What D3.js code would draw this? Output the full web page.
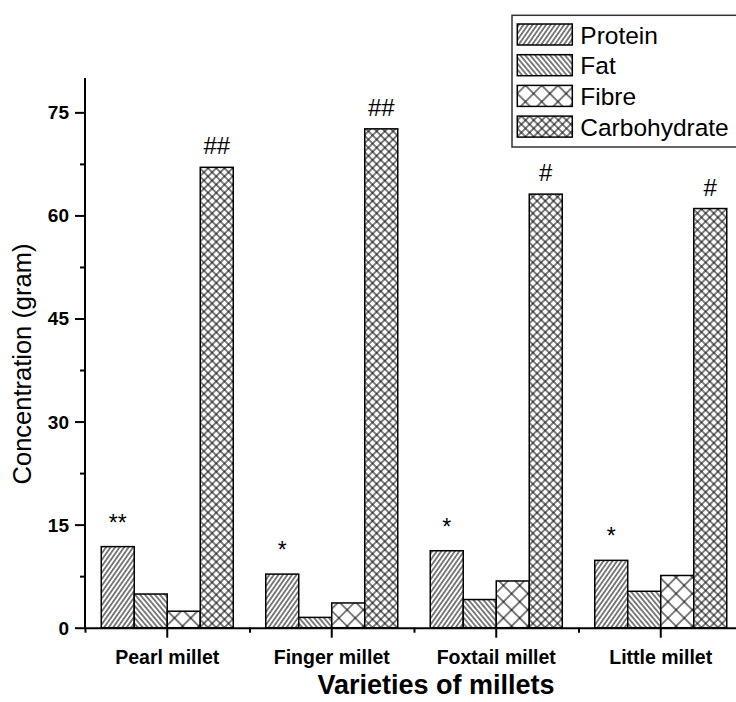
<!DOCTYPE html>
<html>
<head>
<meta charset="utf-8">
<script src="https://cdn.jsdelivr.net/npm/d3@7"></script>
<style>
html,body{margin:0;padding:0;background:#fff;}
svg{display:block;font-family:Arial,"Liberation Sans",Helvetica,sans-serif;}
</style>
</head>
<body>
<svg id="chart" width="736" height="702"></svg>
<script>
// ---- data ----
const categories = ["Pearl millet", "Finger millet", "Foxtail millet", "Little millet"];
const series = ["Protein", "Fat", "Fibre", "Carbohydrate"];
const protein = [11.8, 7.8, 11.2, 9.8];
const fat = [4.9, 1.5, 4.1, 5.3];
const fibre = [2.4, 3.6, 6.8, 7.6];
const carbohydrate = [67.0, 72.6, 63.1, 61.0];
const proteinMarks = ["**", "*", "*", "*"];
const carbohydrateMarks = ["##", "##", "#", "#"];
const yTicks = [0, 15, 30, 45, 60, 75];
const yMinorTicks = [7.5, 22.5, 37.5, 52.5, 67.5];
const yLabel = "Concentration (gram)";
const xLabel = "Varieties of millets";

const values = [protein, fat, fibre, carbohydrate];

// ---- layout ----
const svg = d3.select("#chart");
const plotLeft = 85, plotRight = 743, plotTop = 78, plotBottom = 627.7;

const x0 = d3.scaleBand().domain(categories).range([plotLeft, plotRight]).paddingInner(0).paddingOuter(0);
const pad = (x0.bandwidth() - 132) / 2;
const x1 = d3.scaleBand().domain(series).range([pad, x0.bandwidth() - pad]).padding(0);
const xEdge = d3.scaleLinear().domain([0, categories.length]).range([plotLeft, plotRight]);
const y = d3.scaleLinear().domain([0, 80]).range([plotBottom, plotTop]);

// ---- patterns ----
const defs = svg.append("defs");
function pattern(id, s, angle, cross) {
  const p = defs.append("pattern").attr("id", id)
    .attr("patternUnits", "userSpaceOnUse")
    .attr("width", s).attr("height", s)
    .attr("patternTransform", `rotate(${angle})`);
  p.append("rect").attr("width", s).attr("height", s).attr("fill", "#fff");
  p.append("line").attr("x1", s / 2).attr("y1", -1).attr("x2", s / 2).attr("y2", s + 1)
    .attr("stroke", "#000").attr("stroke-width", 1);
  if (cross) {
    p.append("line").attr("x1", -1).attr("y1", s / 2).attr("x2", s + 1).attr("y2", s / 2)
      .attr("stroke", "#000").attr("stroke-width", 1);
  }
}
pattern("pat-Protein", 3.7, 35, false);
pattern("pat-Fat", 3.8, -40, false);
pattern("pat-Fibre", 11.5, 45, true);
pattern("pat-Carbohydrate", 5.8, 45, true);

// ---- bars ----
const groups = svg.append("g").selectAll("g").data(categories).join("g")
  .attr("transform", d => `translate(${x0(d)},0)`);
groups.selectAll("rect")
  .data((c, i) => series.map((s, k) => ({ s, v: values[k][i] })))
  .join("rect")
  .attr("x", d => x1(d.s))
  .attr("y", d => y(d.v))
  .attr("width", x1.bandwidth())
  .attr("height", d => y(0) - y(d.v))
  .attr("fill", d => `url(#pat-${d.s})`)
  .attr("stroke", "#000")
  .attr("stroke-width", 1.5);

// ---- significance marks ----
const markG = svg.append("g").attr("font-size", 24).attr("text-anchor", "middle").attr("fill", "#000");
markG.selectAll("text.p").data(categories).join("text").attr("class", "p")
  .attr("x", (c) => x0(c) + x1("Protein") + x1.bandwidth() / 2)
  .attr("y", (c, i) => y(protein[i]) - 16)
  .attr("font-size", 23)
  .text((c, i) => proteinMarks[i]);
markG.selectAll("text.c").data(categories).join("text").attr("class", "c")
  .attr("x", (c) => x0(c) + x1("Carbohydrate") + x1.bandwidth() / 2)
  .attr("y", (c, i) => y(carbohydrate[i]) - 13)
  .text((c, i) => carbohydrateMarks[i]);

// ---- axes ----
const yAxis = svg.append("g").attr("transform", `translate(${plotLeft},0)`)
  .call(d3.axisLeft(y).tickValues(yTicks).tickSize(10).tickPadding(6).tickFormat(d3.format("d")));
const yMinor = svg.append("g").attr("transform", `translate(${plotLeft},0)`)
  .call(d3.axisLeft(y).tickValues(yMinorTicks).tickSize(5).tickFormat(""));
yMinor.select(".domain").remove();
yAxis.select(".domain").attr("d", `M0,${plotTop}V${plotBottom}`);

const xAxis = svg.append("g").attr("transform", `translate(0,${plotBottom})`)
  .call(d3.axisBottom(x0).tickSize(10).tickPadding(12).tickSizeOuter(0));
const xMinor = svg.append("g").attr("transform", `translate(0,${plotBottom})`)
  .call(d3.axisBottom(xEdge).tickValues(d3.range(categories.length + 1)).tickSize(5).tickFormat(""));
xMinor.select(".domain").remove();

svg.selectAll(".domain").attr("stroke", "#000").attr("stroke-width", 2);
svg.selectAll(".tick line").attr("stroke", "#000").attr("stroke-width", 2);
yAxis.selectAll("text").attr("font-size", 19).attr("font-weight", "bold").attr("fill", "#000").attr("dy", "0.34em");
xAxis.selectAll("text").attr("font-size", 19.5).attr("font-weight", "bold").attr("fill", "#000");

// ---- axis titles ----
svg.append("text")
  .attr("transform", `translate(31,364) rotate(-90)`)
  .attr("text-anchor", "middle")
  .attr("font-size", 25.5)
  .attr("fill", "#000")
  .text(yLabel);
svg.append("text")
  .attr("x", 436).attr("y", 694)
  .attr("text-anchor", "middle")
  .attr("font-size", 27)
  .attr("font-weight", "bold")
  .attr("fill", "#000")
  .text(xLabel);

// ---- legend ----
const lg = svg.append("g");
lg.append("rect").attr("x", 512).attr("y", 15.3).attr("width", 260).attr("height", 131.7)
  .attr("fill", "#fff").attr("stroke", "#333").attr("stroke-width", 1.5);
const rows = lg.selectAll("g").data(series).join("g")
  .attr("transform", (d, i) => `translate(517.3,${24 + i * 30.7})`);
rows.append("rect").attr("width", 55).attr("height", 21)
  .attr("fill", d => `url(#pat-${d})`).attr("stroke", "#000").attr("stroke-width", 1.5);
rows.append("text").attr("x", 63).attr("y", 19.5)
  .attr("font-size", 24.5).attr("fill", "#000").text(d => d);
</script>
</body>
</html>
